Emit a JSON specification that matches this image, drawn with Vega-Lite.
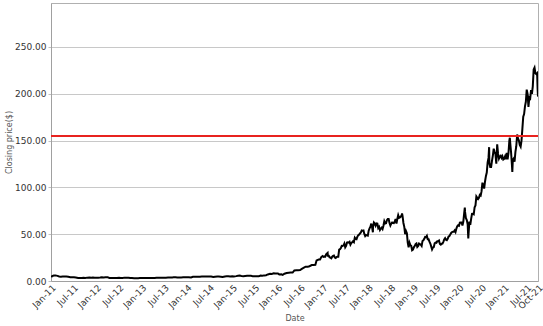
{
  "$schema": "https://vega.github.io/schema/vega-lite/v6.json",
  "autosize": {"type": "none"},
  "width": 487,
  "height": 278,
  "padding": {"left": 51, "top": 3, "right": 5, "bottom": 45},
  "background": "white",
  "config": {
    "view": {"stroke": "#b0b0b0", "strokeWidth": 1},
    "font": "DejaVu Sans"
  },
  "datasets": {
    "prices": [
      {"date": "2011-01-03", "close": 4.0}, {"date": "2011-01-10", "close": 5.2}, {"date": "2011-01-24", "close": 5.9}, {"date": "2011-02-07", "close": 6.0}, {"date": "2011-02-22", "close": 5.5}, {"date": "2011-03-08", "close": 4.8}, {"date": "2011-03-22", "close": 4.6}, {"date": "2011-04-05", "close": 4.7}, {"date": "2011-04-20", "close": 4.8}, {"date": "2011-05-05", "close": 4.9}, {"date": "2011-05-20", "close": 4.6}, {"date": "2011-06-06", "close": 4.1}, {"date": "2011-06-20", "close": 4.0}, {"date": "2011-07-05", "close": 4.0}, {"date": "2011-07-20", "close": 3.8}, {"date": "2011-08-08", "close": 3.3}, {"date": "2011-08-22", "close": 3.2}, {"date": "2011-09-06", "close": 3.3}, {"date": "2011-09-20", "close": 3.5}, {"date": "2011-10-04", "close": 3.2}, {"date": "2011-10-20", "close": 3.6}, {"date": "2011-11-07", "close": 3.8}, {"date": "2011-11-21", "close": 3.4}, {"date": "2011-12-05", "close": 3.6}, {"date": "2011-12-19", "close": 3.4},
      {"date": "2012-01-03", "close": 3.5}, {"date": "2012-01-17", "close": 3.6}, {"date": "2012-02-01", "close": 3.7}, {"date": "2012-02-15", "close": 3.9}, {"date": "2012-03-01", "close": 3.8}, {"date": "2012-03-15", "close": 3.9}, {"date": "2012-04-02", "close": 3.9}, {"date": "2012-04-16", "close": 3.3}, {"date": "2012-05-01", "close": 3.3}, {"date": "2012-05-15", "close": 3.2}, {"date": "2012-06-01", "close": 3.1}, {"date": "2012-06-15", "close": 3.3}, {"date": "2012-07-02", "close": 3.5}, {"date": "2012-07-16", "close": 3.2}, {"date": "2012-08-01", "close": 3.3}, {"date": "2012-08-15", "close": 3.6}, {"date": "2012-09-04", "close": 3.6}, {"date": "2012-09-17", "close": 3.5}, {"date": "2012-10-01", "close": 3.3}, {"date": "2012-10-15", "close": 3.2}, {"date": "2012-11-01", "close": 3.0}, {"date": "2012-11-15", "close": 2.9}, {"date": "2012-12-03", "close": 3.0}, {"date": "2012-12-17", "close": 3.1},
      {"date": "2013-01-02", "close": 3.1}, {"date": "2013-01-16", "close": 3.2}, {"date": "2013-02-01", "close": 3.2}, {"date": "2013-02-15", "close": 3.1}, {"date": "2013-03-01", "close": 3.1}, {"date": "2013-03-15", "close": 3.2}, {"date": "2013-04-01", "close": 3.2}, {"date": "2013-04-15", "close": 3.2}, {"date": "2013-05-01", "close": 3.5}, {"date": "2013-05-15", "close": 3.6}, {"date": "2013-06-03", "close": 3.5}, {"date": "2013-06-17", "close": 3.6}, {"date": "2013-07-01", "close": 3.6}, {"date": "2013-07-15", "close": 3.6}, {"date": "2013-08-01", "close": 3.7}, {"date": "2013-08-15", "close": 3.7}, {"date": "2013-09-03", "close": 3.8}, {"date": "2013-09-16", "close": 3.9}, {"date": "2013-10-01", "close": 3.9}, {"date": "2013-10-15", "close": 3.8}, {"date": "2013-11-01", "close": 3.8}, {"date": "2013-11-15", "close": 3.8}, {"date": "2013-12-02", "close": 3.9}, {"date": "2013-12-16", "close": 4.0},
      {"date": "2014-01-02", "close": 3.9}, {"date": "2014-01-15", "close": 4.0}, {"date": "2014-02-03", "close": 3.8}, {"date": "2014-02-18", "close": 4.5}, {"date": "2014-03-03", "close": 4.6}, {"date": "2014-03-17", "close": 4.6}, {"date": "2014-04-01", "close": 4.6}, {"date": "2014-04-15", "close": 4.5}, {"date": "2014-05-01", "close": 4.7}, {"date": "2014-05-15", "close": 4.7}, {"date": "2014-06-02", "close": 4.8}, {"date": "2014-06-16", "close": 4.7}, {"date": "2014-07-01", "close": 4.7}, {"date": "2014-07-15", "close": 4.8}, {"date": "2014-08-01", "close": 4.4}, {"date": "2014-08-15", "close": 4.6}, {"date": "2014-09-02", "close": 4.8}, {"date": "2014-09-15", "close": 4.8}, {"date": "2014-10-01", "close": 4.6}, {"date": "2014-10-15", "close": 4.3}, {"date": "2014-11-03", "close": 4.9}, {"date": "2014-11-17", "close": 5.0}, {"date": "2014-12-01", "close": 5.1}, {"date": "2014-12-15", "close": 4.8},
      {"date": "2015-01-02", "close": 5.0}, {"date": "2015-01-15", "close": 4.9}, {"date": "2015-02-02", "close": 5.2}, {"date": "2015-02-17", "close": 5.6}, {"date": "2015-03-02", "close": 5.8}, {"date": "2015-03-16", "close": 5.4}, {"date": "2015-04-01", "close": 5.2}, {"date": "2015-04-15", "close": 5.4}, {"date": "2015-05-01", "close": 5.6}, {"date": "2015-05-15", "close": 5.6}, {"date": "2015-06-01", "close": 5.5}, {"date": "2015-06-15", "close": 5.2}, {"date": "2015-07-01", "close": 5.0}, {"date": "2015-07-15", "close": 5.0}, {"date": "2015-08-03", "close": 5.0}, {"date": "2015-08-17", "close": 5.8}, {"date": "2015-09-01", "close": 5.6}, {"date": "2015-09-15", "close": 6.0}, {"date": "2015-10-01", "close": 6.2}, {"date": "2015-10-15", "close": 7.0}, {"date": "2015-11-02", "close": 7.7}, {"date": "2015-11-16", "close": 7.6}, {"date": "2015-12-01", "close": 8.2}, {"date": "2015-12-15", "close": 8.1},
      {"date": "2016-01-04", "close": 8.0}, {"date": "2016-01-15", "close": 7.0}, {"date": "2016-02-01", "close": 7.25}, {"date": "2016-02-12", "close": 6.6}, {"date": "2016-02-26", "close": 7.75}, {"date": "2016-03-15", "close": 8.5}, {"date": "2016-04-01", "close": 8.9}, {"date": "2016-04-15", "close": 9.0}, {"date": "2016-05-02", "close": 9.0}, {"date": "2016-05-16", "close": 11.3}, {"date": "2016-06-01", "close": 11.6}, {"date": "2016-06-15", "close": 11.5}, {"date": "2016-07-01", "close": 11.75}, {"date": "2016-07-15", "close": 13.0}, {"date": "2016-08-01", "close": 14.25}, {"date": "2016-08-15", "close": 15.25}, {"date": "2016-09-01", "close": 15.3}, {"date": "2016-09-15", "close": 15.8}, {"date": "2016-10-03", "close": 17.0}, {"date": "2016-10-17", "close": 17.0}, {"date": "2016-11-01", "close": 17.25}, {"date": "2016-11-11", "close": 22.0}, {"date": "2016-11-28", "close": 23.0}, {"date": "2016-12-09", "close": 23.0}, {"date": "2016-12-20", "close": 25.8}, {"date": "2016-12-30", "close": 26.7},
      {"date": "2017-01-06", "close": 25.8}, {"date": "2017-01-13", "close": 26.2}, {"date": "2017-01-20", "close": 26.0}, {"date": "2017-01-27", "close": 28.5}, {"date": "2017-02-08", "close": 30.0}, {"date": "2017-02-10", "close": 27.0}, {"date": "2017-02-17", "close": 27.0}, {"date": "2017-02-24", "close": 25.3}, {"date": "2017-03-03", "close": 25.0}, {"date": "2017-03-10", "close": 24.3}, {"date": "2017-03-17", "close": 26.0}, {"date": "2017-03-24", "close": 26.8}, {"date": "2017-03-31", "close": 27.2}, {"date": "2017-04-07", "close": 25.0}, {"date": "2017-04-14", "close": 24.5}, {"date": "2017-04-21", "close": 25.5}, {"date": "2017-04-28", "close": 26.0}, {"date": "2017-05-05", "close": 26.0}, {"date": "2017-05-12", "close": 33.5}, {"date": "2017-05-19", "close": 34.0}, {"date": "2017-05-26", "close": 35.3}, {"date": "2017-06-02", "close": 37.5}, {"date": "2017-06-09", "close": 37.4}, {"date": "2017-06-16", "close": 38.0}, {"date": "2017-06-23", "close": 40.0}, {"date": "2017-06-30", "close": 36.0}, {"date": "2017-07-07", "close": 37.5}, {"date": "2017-07-14", "close": 41.0}, {"date": "2017-07-21", "close": 41.3}, {"date": "2017-07-28", "close": 41.0}, {"date": "2017-08-04", "close": 41.8}, {"date": "2017-08-11", "close": 38.8}, {"date": "2017-08-18", "close": 40.5}, {"date": "2017-08-25", "close": 41.3}, {"date": "2017-09-01", "close": 42.5}, {"date": "2017-09-08", "close": 41.5}, {"date": "2017-09-15", "close": 46.3}, {"date": "2017-09-22", "close": 45.0}, {"date": "2017-09-29", "close": 44.7}, {"date": "2017-10-06", "close": 47.3}, {"date": "2017-10-13", "close": 49.0}, {"date": "2017-10-20", "close": 49.5}, {"date": "2017-10-27", "close": 50.8}, {"date": "2017-11-03", "close": 51.8}, {"date": "2017-11-10", "close": 54.0}, {"date": "2017-11-17", "close": 53.8}, {"date": "2017-11-24", "close": 54.0}, {"date": "2017-12-01", "close": 50.3}, {"date": "2017-12-08", "close": 48.0}, {"date": "2017-12-15", "close": 49.0}, {"date": "2017-12-22", "close": 48.8}, {"date": "2017-12-29", "close": 48.4},
      {"date": "2018-01-05", "close": 53.8}, {"date": "2018-01-12", "close": 56.3}, {"date": "2018-01-19", "close": 58.0}, {"date": "2018-01-26", "close": 61.3}, {"date": "2018-02-02", "close": 57.0}, {"date": "2018-02-08", "close": 52.0}, {"date": "2018-02-09", "close": 58.0}, {"date": "2018-02-16", "close": 62.5}, {"date": "2018-02-23", "close": 61.3}, {"date": "2018-03-02", "close": 59.0}, {"date": "2018-03-09", "close": 61.5}, {"date": "2018-03-16", "close": 61.3}, {"date": "2018-03-23", "close": 56.5}, {"date": "2018-03-30", "close": 57.8}, {"date": "2018-04-06", "close": 54.5}, {"date": "2018-04-13", "close": 56.0}, {"date": "2018-04-20", "close": 57.0}, {"date": "2018-04-27", "close": 55.5}, {"date": "2018-05-04", "close": 59.0}, {"date": "2018-05-11", "close": 63.8}, {"date": "2018-05-18", "close": 61.5}, {"date": "2018-05-25", "close": 61.8}, {"date": "2018-06-01", "close": 65.0}, {"date": "2018-06-08", "close": 66.3}, {"date": "2018-06-15", "close": 66.3}, {"date": "2018-06-22", "close": 62.0}, {"date": "2018-06-29", "close": 59.3}, {"date": "2018-07-06", "close": 61.3}, {"date": "2018-07-13", "close": 62.5}, {"date": "2018-07-20", "close": 62.0}, {"date": "2018-07-27", "close": 61.8}, {"date": "2018-08-03", "close": 63.5}, {"date": "2018-08-10", "close": 66.3}, {"date": "2018-08-17", "close": 61.3}, {"date": "2018-08-24", "close": 66.3}, {"date": "2018-08-31", "close": 70.3}, {"date": "2018-09-07", "close": 67.5}, {"date": "2018-09-14", "close": 68.0}, {"date": "2018-09-21", "close": 68.8}, {"date": "2018-09-28", "close": 70.3}, {"date": "2018-10-01", "close": 72.3}, {"date": "2018-10-05", "close": 69.5}, {"date": "2018-10-12", "close": 62.0}, {"date": "2018-10-19", "close": 57.8}, {"date": "2018-10-26", "close": 50.0}, {"date": "2018-11-02", "close": 53.3}, {"date": "2018-11-09", "close": 51.0}, {"date": "2018-11-16", "close": 41.0}, {"date": "2018-11-23", "close": 36.0}, {"date": "2018-11-30", "close": 40.8}, {"date": "2018-12-07", "close": 38.3}, {"date": "2018-12-14", "close": 37.5}, {"date": "2018-12-21", "close": 32.8}, {"date": "2018-12-28", "close": 33.5},
      {"date": "2019-01-04", "close": 36.0}, {"date": "2019-01-11", "close": 37.3}, {"date": "2019-01-18", "close": 39.3}, {"date": "2019-01-25", "close": 40.0}, {"date": "2019-02-01", "close": 36.3}, {"date": "2019-02-08", "close": 37.3}, {"date": "2019-02-15", "close": 40.0}, {"date": "2019-02-22", "close": 39.5}, {"date": "2019-03-01", "close": 38.8}, {"date": "2019-03-08", "close": 37.5}, {"date": "2019-03-15", "close": 42.8}, {"date": "2019-03-22", "close": 43.5}, {"date": "2019-03-29", "close": 45.0}, {"date": "2019-04-05", "close": 47.0}, {"date": "2019-04-12", "close": 46.8}, {"date": "2019-04-19", "close": 48.3}, {"date": "2019-04-26", "close": 44.5}, {"date": "2019-05-03", "close": 44.5}, {"date": "2019-05-10", "close": 42.0}, {"date": "2019-05-17", "close": 40.0}, {"date": "2019-05-24", "close": 37.0}, {"date": "2019-05-31", "close": 33.8}, {"date": "2019-06-07", "close": 35.8}, {"date": "2019-06-14", "close": 36.3}, {"date": "2019-06-21", "close": 40.3}, {"date": "2019-06-28", "close": 41.0}, {"date": "2019-07-05", "close": 40.8}, {"date": "2019-07-12", "close": 42.5}, {"date": "2019-07-19", "close": 42.5}, {"date": "2019-07-26", "close": 43.3}, {"date": "2019-08-02", "close": 39.5}, {"date": "2019-08-09", "close": 38.8}, {"date": "2019-08-16", "close": 39.8}, {"date": "2019-08-23", "close": 40.0}, {"date": "2019-08-30", "close": 41.8}, {"date": "2019-09-06", "close": 44.5}, {"date": "2019-09-13", "close": 45.8}, {"date": "2019-09-20", "close": 44.0}, {"date": "2019-09-27", "close": 43.5}, {"date": "2019-10-04", "close": 45.0}, {"date": "2019-10-11", "close": 47.5}, {"date": "2019-10-18", "close": 48.0}, {"date": "2019-10-25", "close": 49.8}, {"date": "2019-11-01", "close": 51.3}, {"date": "2019-11-08", "close": 52.3}, {"date": "2019-11-15", "close": 52.5}, {"date": "2019-11-22", "close": 52.5}, {"date": "2019-11-29", "close": 54.0}, {"date": "2019-12-06", "close": 52.3}, {"date": "2019-12-13", "close": 56.0}, {"date": "2019-12-20", "close": 58.5}, {"date": "2019-12-27", "close": 59.5},
      {"date": "2020-01-03", "close": 59.0}, {"date": "2020-01-10", "close": 62.3}, {"date": "2020-01-17", "close": 62.5}, {"date": "2020-01-24", "close": 62.5}, {"date": "2020-01-31", "close": 59.3}, {"date": "2020-02-07", "close": 63.5}, {"date": "2020-02-14", "close": 72.5}, {"date": "2020-02-19", "close": 78.5}, {"date": "2020-02-21", "close": 73.8}, {"date": "2020-02-28", "close": 67.0}, {"date": "2020-03-06", "close": 65.0}, {"date": "2020-03-13", "close": 60.5}, {"date": "2020-03-18", "close": 45.5}, {"date": "2020-03-20", "close": 50.0}, {"date": "2020-03-27", "close": 63.5}, {"date": "2020-04-03", "close": 60.0}, {"date": "2020-04-10", "close": 66.3}, {"date": "2020-04-17", "close": 71.8}, {"date": "2020-04-24", "close": 72.0}, {"date": "2020-05-01", "close": 71.3}, {"date": "2020-05-08", "close": 78.8}, {"date": "2020-05-15", "close": 80.8}, {"date": "2020-05-22", "close": 90.3}, {"date": "2020-05-29", "close": 88.8}, {"date": "2020-06-05", "close": 87.5}, {"date": "2020-06-12", "close": 88.8}, {"date": "2020-06-19", "close": 92.0}, {"date": "2020-06-26", "close": 91.3}, {"date": "2020-07-03", "close": 96.0}, {"date": "2020-07-10", "close": 105.0}, {"date": "2020-07-17", "close": 102.0}, {"date": "2020-07-24", "close": 98.8}, {"date": "2020-07-31", "close": 106.3}, {"date": "2020-08-07", "close": 112.0}, {"date": "2020-08-14", "close": 115.8}, {"date": "2020-08-21", "close": 126.8}, {"date": "2020-08-28", "close": 131.5}, {"date": "2020-09-02", "close": 143.0}, {"date": "2020-09-04", "close": 126.0}, {"date": "2020-09-11", "close": 121.8}, {"date": "2020-09-18", "close": 121.8}, {"date": "2020-09-25", "close": 128.3}, {"date": "2020-10-02", "close": 134.0}, {"date": "2020-10-09", "close": 141.3}, {"date": "2020-10-16", "close": 138.0}, {"date": "2020-10-23", "close": 135.5}, {"date": "2020-10-30", "close": 125.3}, {"date": "2020-11-06", "close": 146.0}, {"date": "2020-11-13", "close": 136.0}, {"date": "2020-11-20", "close": 130.8}, {"date": "2020-11-27", "close": 133.0}, {"date": "2020-12-04", "close": 133.8}, {"date": "2020-12-11", "close": 131.5}, {"date": "2020-12-18", "close": 133.3}, {"date": "2020-12-25", "close": 129.8},
      {"date": "2021-01-01", "close": 130.5}, {"date": "2021-01-08", "close": 133.0}, {"date": "2021-01-15", "close": 130.0}, {"date": "2021-01-22", "close": 137.0}, {"date": "2021-01-29", "close": 130.0}, {"date": "2021-02-05", "close": 136.8}, {"date": "2021-02-12", "close": 150.0}, {"date": "2021-02-16", "close": 153.0}, {"date": "2021-02-19", "close": 147.5}, {"date": "2021-02-26", "close": 137.3}, {"date": "2021-03-05", "close": 123.8}, {"date": "2021-03-08", "close": 116.5}, {"date": "2021-03-12", "close": 129.5}, {"date": "2021-03-19", "close": 130.8}, {"date": "2021-03-26", "close": 127.5}, {"date": "2021-04-02", "close": 138.0}, {"date": "2021-04-09", "close": 144.0}, {"date": "2021-04-16", "close": 156.5}, {"date": "2021-04-23", "close": 152.3}, {"date": "2021-04-30", "close": 150.0}, {"date": "2021-05-07", "close": 145.3}, {"date": "2021-05-14", "close": 143.5}, {"date": "2021-05-21", "close": 150.0}, {"date": "2021-05-28", "close": 162.5}, {"date": "2021-06-04", "close": 175.5}, {"date": "2021-06-11", "close": 178.3}, {"date": "2021-06-18", "close": 186.5}, {"date": "2021-06-25", "close": 191.5}, {"date": "2021-07-02", "close": 204.5}, {"date": "2021-07-09", "close": 200.0}, {"date": "2021-07-16", "close": 186.0}, {"date": "2021-07-23", "close": 196.0}, {"date": "2021-07-30", "close": 195.0}, {"date": "2021-08-06", "close": 204.0}, {"date": "2021-08-13", "close": 200.0}, {"date": "2021-08-20", "close": 208.0}, {"date": "2021-08-27", "close": 226.0}, {"date": "2021-09-03", "close": 228.0}, {"date": "2021-09-10", "close": 222.0}, {"date": "2021-09-17", "close": 221.0}, {"date": "2021-09-24", "close": 222.0}, {"date": "2021-09-28", "close": 205.0}, {"date": "2021-10-01", "close": 197.0}
    ],
    "reference": [{"level": 155}]
  },
  "layer": [
    {
      "data": {"name": "prices"},
      "mark": {"type": "line", "color": "#000000", "strokeWidth": 2, "clip": true},
      "encoding": {
        "x": {
          "field": "date",
          "type": "temporal",
          "scale": {"domain": [{"year": 2011, "month": 1, "date": 1}, {"year": 2021, "month": 10, "date": 1}]},
          "axis": {
            "title": "Date",
            "format": "%b-%y",
            "values": [
              {"year": 2011, "month": 1, "date": 1}, {"year": 2011, "month": 7, "date": 1},
              {"year": 2012, "month": 1, "date": 1}, {"year": 2012, "month": 7, "date": 1},
              {"year": 2013, "month": 1, "date": 1}, {"year": 2013, "month": 7, "date": 1},
              {"year": 2014, "month": 1, "date": 1}, {"year": 2014, "month": 7, "date": 1},
              {"year": 2015, "month": 1, "date": 1}, {"year": 2015, "month": 7, "date": 1},
              {"year": 2016, "month": 1, "date": 1}, {"year": 2016, "month": 7, "date": 1},
              {"year": 2017, "month": 1, "date": 1}, {"year": 2017, "month": 7, "date": 1},
              {"year": 2018, "month": 1, "date": 1}, {"year": 2018, "month": 7, "date": 1},
              {"year": 2019, "month": 1, "date": 1}, {"year": 2019, "month": 7, "date": 1},
              {"year": 2020, "month": 1, "date": 1}, {"year": 2020, "month": 7, "date": 1},
              {"year": 2021, "month": 1, "date": 1}, {"year": 2021, "month": 7, "date": 1},
              {"year": 2021, "month": 10, "date": 1}
            ],
            "labelAngle": -45,
            "labelAlign": "right",
            "labelBaseline": "top",
            "labelFont": "DejaVu Sans",
            "labelFontSize": 9,
            "labelColor": "#333333",
            "labelOverlap": false,
            "labelFlush": false,
            "labelPadding": 2,
            "ticks": false,
            "grid": false,
            "domainColor": "#a0a0a0",
            "titleFont": "DejaVu Sans",
            "titleFontSize": 8,
            "titleFontWeight": "normal",
            "titleColor": "#555555",
            "titlePadding": 4
          }
        },
        "y": {
          "field": "close",
          "type": "quantitative",
          "scale": {"domain": [0, 297], "nice": false},
          "axis": {
            "title": "Closing price($)",
            "values": [0, 50, 100, 150, 200, 250],
            "format": ".2f",
            "labelFont": "DejaVu Sans",
            "labelFontSize": 9,
            "labelColor": "#333333",
            "labelPadding": 2,
            "tickSize": 3,
            "tickColor": "#c0c0c0",
            "grid": true,
            "gridColor": "#c8c8c8",
            "domainColor": "#a0a0a0",
            "titleFont": "DejaVu Sans",
            "titleFontSize": 8,
            "titleFontWeight": "normal",
            "titleColor": "#555555",
            "titlePadding": 1
          }
        }
      }
    },
    {
      "data": {"name": "reference"},
      "mark": {"type": "rule", "color": "#e8231f", "strokeWidth": 2},
      "encoding": {
        "y": {"field": "level", "type": "quantitative"}
      }
    }
  ]
}
